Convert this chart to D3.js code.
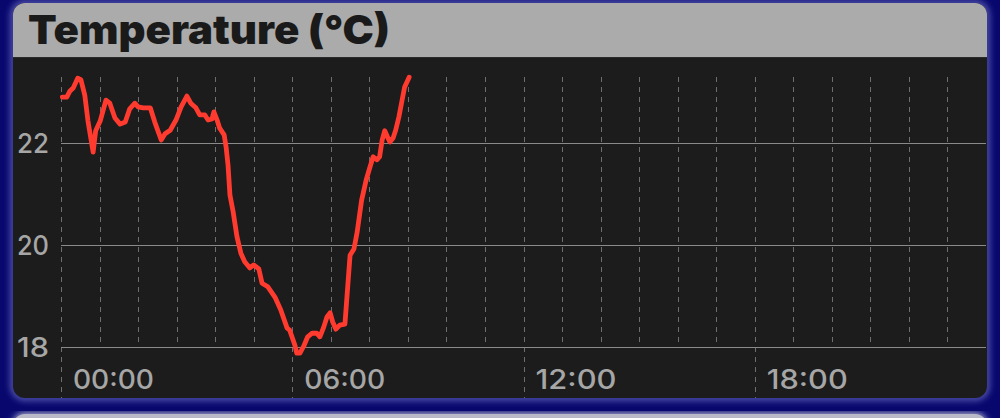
<!DOCTYPE html>
<html>
<head>
<meta charset="utf-8">
<script src="https://cdn.jsdelivr.net/npm/d3@7"></script>
<style>
  html, body { margin: 0; padding: 0; background: #06066a; overflow: hidden; }
  svg { display: block; }
</style>
</head>
<body>
<svg id="chart" width="1000" height="418"></svg>
<script>
// ---- data ----
const title = "Temperature (°C)";
// minutes after midnight
const minutes = [2, 9, 14, 19, 26, 31, 37, 42, 50, 54, 61, 70, 76, 84, 92, 100, 107, 115, 120, 128,
  139, 146, 156, 162, 170, 179, 187, 196, 202, 210, 216, 224, 229, 235, 238, 243, 247, 254, 257, 260,
  263, 268, 274, 280, 286, 294, 300, 308, 313, 322, 333, 342, 352, 356, 364, 367, 372, 378, 384, 391,
  398, 403, 409, 414, 419, 423, 428, 434, 442, 450, 456, 461, 468, 475, 481, 486, 492, 496, 500, 504,
  509, 512, 517, 521, 526, 531, 535, 542];
const temps = [22.90, 22.90, 23.02, 23.08, 23.27, 23.24, 22.94, 22.43, 21.82, 22.24, 22.43, 22.84, 22.78, 22.49, 22.37, 22.41, 22.67, 22.78, 22.71, 22.69,
  22.69, 22.41, 22.06, 22.18, 22.25, 22.45, 22.71, 22.92, 22.78, 22.69, 22.55, 22.55, 22.45, 22.47, 22.61, 22.45, 22.29, 22.16, 21.92, 21.57,
  20.98, 20.65, 20.16, 19.84, 19.67, 19.55, 19.61, 19.53, 19.25, 19.18, 18.98, 18.73, 18.37, 18.33, 18.04, 17.88, 17.88, 18.02, 18.20, 18.27,
  18.27, 18.20, 18.39, 18.59, 18.67, 18.49, 18.35, 18.43, 18.45, 19.80, 19.92, 20.25, 20.88, 21.27, 21.53, 21.73, 21.67, 21.73, 22.06, 22.24,
  22.10, 22.02, 22.10, 22.25, 22.51, 22.84, 23.10, 23.29];
const yTicks = [18, 20, 22];
const hourTicks = d3.range(0, 24);          // dashed grid every hour
const labelHours = [0, 6, 12, 18];
const labelText = ["00:00", "06:00", "12:00", "18:00"];

// ---- layout ----
const svg = d3.select("#chart");
const card = { x: 13, y: 3, w: 974, h: 395, r: 12 };
const headerH = 54;

const defs = svg.append("defs");
const blur = defs.append("filter").attr("id", "glow").attr("x", "-5%").attr("y", "-5%").attr("width", "110%").attr("height", "110%");
blur.append("feGaussianBlur").attr("stdDeviation", 3);
defs.append("clipPath").attr("id", "cardClip")
  .append("rect").attr("x", card.x).attr("y", card.y).attr("width", card.w).attr("height", card.h).attr("rx", card.r);

// background
svg.append("rect").attr("width", 1000).attr("height", 418).attr("fill", "#07076e");
// glow around cards
svg.append("rect").attr("x", card.x).attr("y", card.y).attr("width", card.w).attr("height", card.h).attr("rx", card.r)
  .attr("fill", "none").attr("stroke", "#6464b8").attr("stroke-width", 5).attr("filter", "url(#glow)");
svg.append("rect").attr("x", card.x).attr("y", 413).attr("width", card.w).attr("height", 40).attr("rx", card.r)
  .attr("fill", "#b4b4c4").attr("stroke", "#6464b8").attr("stroke-width", 3).attr("filter", "url(#glow)");
svg.append("rect").attr("x", card.x).attr("y", 414).attr("width", card.w).attr("height", 40).attr("rx", card.r)
  .attr("fill", "#b8b8c8");

const g = svg.append("g").attr("clip-path", "url(#cardClip)");
g.append("rect").attr("x", card.x).attr("y", card.y).attr("width", card.w).attr("height", card.h).attr("fill", "#1c1c1c");
g.append("rect").attr("x", card.x).attr("y", card.y).attr("width", card.w).attr("height", headerH).attr("fill", "#ababab");
g.append("line").attr("x1", card.x).attr("x2", card.x + card.w).attr("y1", card.y + headerH + 0.5).attr("y2", card.y + headerH + 0.5)
  .attr("stroke", "#2a2a2a").attr("stroke-width", 1);

g.append("text").text(title)
  .attr("x", 28).attr("y", 44)
  .attr("font-family", "Inter, 'Liberation Sans', Arial, sans-serif")
  .attr("font-weight", 900).attr("font-size", 40)
  .attr("textLength", 362).attr("lengthAdjust", "spacingAndGlyphs")
  .attr("fill", "#1a1a1a");

// ---- scales ----
const x = d3.scaleLinear().domain([0, 1440]).range([61, 986]);
const y = d3.scaleLinear().domain([18, 22]).range([347, 143]);

// vertical dashed grid
g.append("g").selectAll("line").data(hourTicks).join("line")
  .attr("x1", d => Math.round(x(d * 60)) + 0.5).attr("x2", d => Math.round(x(d * 60)) + 0.5)
  .attr("y1", 77)
  .attr("y2", d => labelHours.includes(d) ? 398 : y(18))
  .attr("stroke", "#6e6e6e").attr("stroke-width", 1).attr("stroke-dasharray", "5,5");

// horizontal grid
g.append("g").selectAll("line").data(yTicks).join("line")
  .attr("x1", x(0)).attr("x2", x(1440))
  .attr("y1", d => Math.round(y(d)) + 0.5).attr("y2", d => Math.round(y(d)) + 0.5)
  .attr("stroke", "#8a8a8a").attr("stroke-width", 1);

// y labels
g.append("g").selectAll("text").data(yTicks).join("text")
  .text(d => d)
  .attr("x", 49).attr("y", d => y(d) + 10)
  .attr("text-anchor", "end")
  .attr("font-family", "Inter, 'Liberation Sans', Arial, sans-serif")
  .attr("font-weight", 500)
  .attr("font-size", 27).attr("fill", "#a6a6a6")
  .attr("textLength", 32).attr("lengthAdjust", "spacingAndGlyphs");

// x labels
g.append("g").selectAll("text").data(labelHours).join("text")
  .text((d, i) => labelText[i])
  .attr("x", d => x(d * 60) + 12).attr("y", 389)
  .attr("font-family", "Inter, 'Liberation Sans', Arial, sans-serif")
  .attr("font-weight", 500)
  .attr("font-size", 27).attr("fill", "#a6a6a6")
  .attr("textLength", 81).attr("lengthAdjust", "spacingAndGlyphs");

// line
const data = minutes.map((m, i) => ({ m, v: temps[i] }));
g.append("path").datum(data)
  .attr("d", d3.line().x(d => x(d.m)).y(d => y(d.v)))
  .attr("fill", "none").attr("stroke", "#ff3b30").attr("stroke-width", 4.8)
  .attr("stroke-linejoin", "round").attr("stroke-linecap", "round");
</script>
</body>
</html>
